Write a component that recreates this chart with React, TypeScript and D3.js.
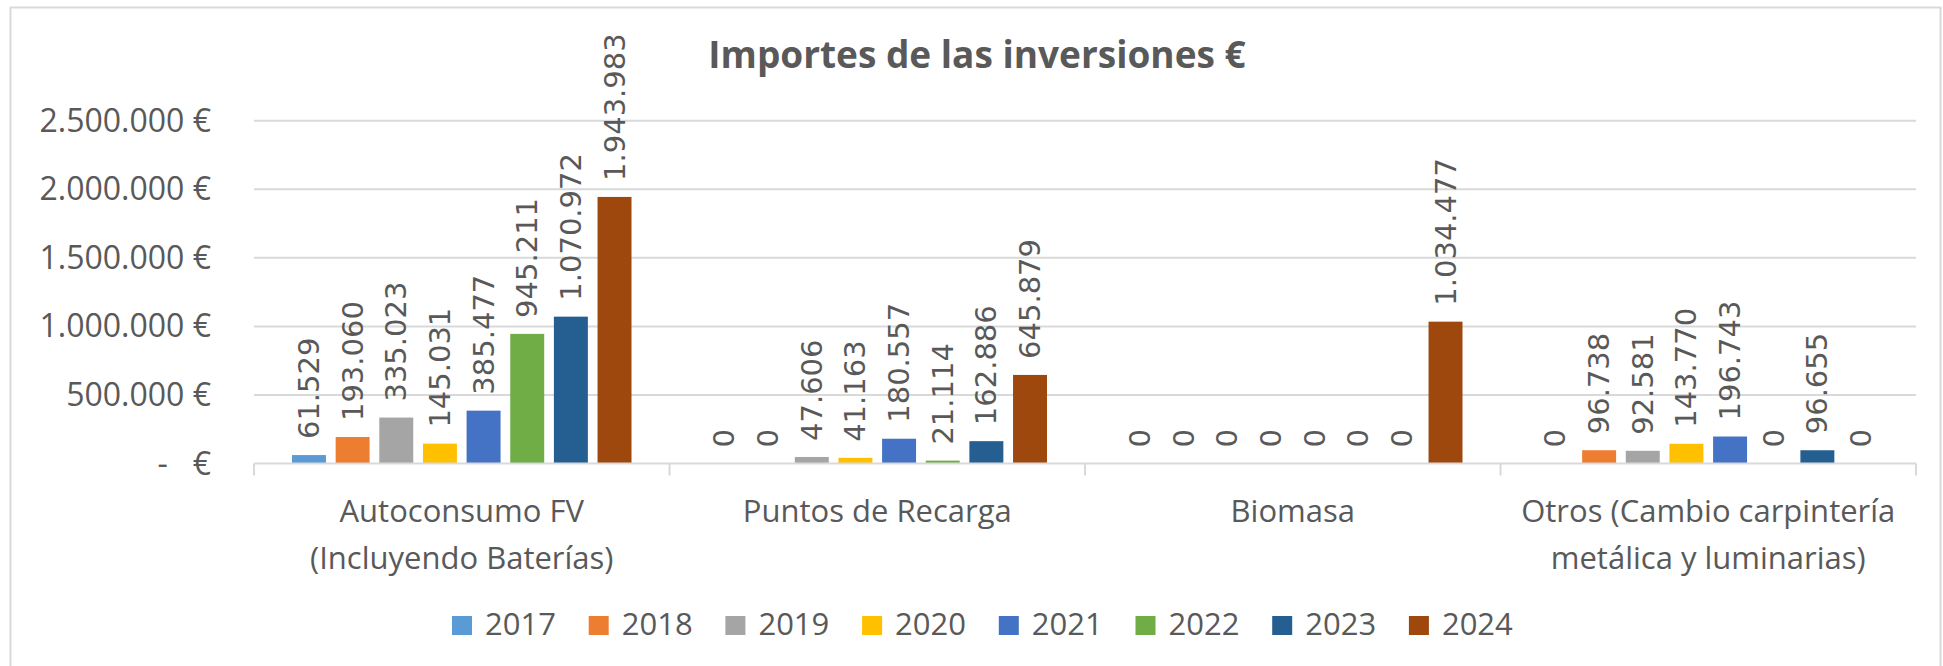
import * as d3 from "d3";
import { useEffect, useRef } from "react";

const categories = [
  ["Autoconsumo FV", "(Incluyendo Baterías)"],
  ["Puntos de Recarga"],
  ["Biomasa"],
  ["Otros (Cambio carpintería", "metálica y luminarias)"],
];
const years = ["2017", "2018", "2019", "2020", "2021", "2022", "2023", "2024"];
const colors = ["#5B9BD5", "#ED7D31", "#A5A5A5", "#FFC000", "#4472C4", "#70AD47", "#255E91", "#9E480E"];

// one array per category, values by year
const autoconsumo = [61529, 193060, 335023, 145031, 385477, 945211, 1070972, 1943983];
const puntosRecarga = [0, 0, 47606, 41163, 180557, 21114, 162886, 645879];
const biomasa = [0, 0, 0, 0, 0, 0, 0, 1034477];
const otros = [0, 96738, 92581, 143770, 196743, 0, 96655, 0];
const values = [autoconsumo, puntosRecarga, biomasa, otros];

const yTicks = [0, 500000, 1000000, 1500000, 2000000, 2500000];
const yTickLabels = ["-   €", "500.000 €", "1.000.000 €", "1.500.000 €", "2.000.000 €", "2.500.000 €"];

const App = () => {
  const ref = useRef<SVGSVGElement>(null);

  useEffect(() => {
    const svg = d3.select(ref.current);
    svg.selectAll("*").remove();
    const width = 1943;
    const height = 666;
    svg.attr("width", width).attr("height", height);

    const text = "#595959";
    const grid = "#d9d9d9";
    const sans = "'Open Sans', sans-serif";

    // chart border
    svg
      .append("rect")
      .attr("x", 10.5)
      .attr("y", 7.5)
      .attr("width", 1930)
      .attr("height", 670)
      .attr("fill", "white")
      .attr("stroke", grid)
      .attr("stroke-width", 2);

    const x0 = d3
      .scaleBand<number>()
      .domain(d3.range(categories.length))
      .range([254, 1916]);
    const x1 = d3
      .scaleBand<string>()
      .domain(years)
      .range([38, x0.bandwidth() - 38])
      .paddingInner(0.222);
    const y = d3.scaleLinear().domain([0, 2500000]).range([463.5, 120.7]);

    const nf = d3.formatLocale({ decimal: ",", thousands: ".", grouping: [3], currency: ["", "€"] }).format(",d");

    // gridlines
    svg
      .append("g")
      .selectAll("line")
      .data(yTicks.slice(1))
      .enter()
      .append("line")
      .attr("x1", 254)
      .attr("x2", 1916)
      .attr("y1", (d) => y(d))
      .attr("y2", (d) => y(d))
      .attr("stroke", grid)
      .attr("stroke-width", 2);

    // y labels
    svg
      .append("g")
      .selectAll("text")
      .data(yTicks)
      .enter()
      .append("text")
      .attr("x", 211)
      .attr("y", (d) => y(d) + 11)
      .attr("text-anchor", "end")
      .attr("font-family", sans)
      .attr("font-size", 32)
      .attr("fill", text)
      .style("white-space", "pre")
      .text((_, i) => yTickLabels[i]);

    // bars
    const groups = svg
      .append("g")
      .selectAll("g")
      .data(values)
      .enter()
      .append("g")
      .attr("transform", (_, i) => `translate(${x0(i)},0)`);

    groups
      .selectAll("rect")
      .data((d) => d)
      .enter()
      .append("rect")
      .attr("x", (_, j) => x1(years[j])!)
      .attr("y", (d) => y(d))
      .attr("width", x1.bandwidth())
      .attr("height", (d) => y(0) - y(d))
      .attr("fill", (_, j) => colors[j]);

    groups
      .selectAll("text")
      .data((d) => d)
      .enter()
      .append("text")
      .attr(
        "transform",
        (d, j) => `translate(${x1(years[j])! + x1.bandwidth() / 2},${y(d) - 16}) rotate(-90)`
      )
      .attr("dominant-baseline", "central")
      .attr("font-family", "'DejaVu Sans', sans-serif")
      .attr("font-size", 29)
      .attr("fill", text)
      .text((d) => nf(d));

    // x axis baseline and ticks
    svg
      .append("line")
      .attr("x1", 254)
      .attr("x2", 1916)
      .attr("y1", y(0))
      .attr("y2", y(0))
      .attr("stroke", grid)
      .attr("stroke-width", 2);

    const boundaries = d3.range(categories.length + 1).map((i) => (i < categories.length ? x0(i)! : 1916));
    svg
      .append("g")
      .selectAll("line")
      .data(boundaries)
      .enter()
      .append("line")
      .attr("x1", (d) => d)
      .attr("x2", (d) => d)
      .attr("y1", y(0))
      .attr("y2", y(0) + 12)
      .attr("stroke", grid)
      .attr("stroke-width", 2);

    // category labels
    const cat = svg
      .append("g")
      .selectAll("text")
      .data(categories)
      .enter()
      .append("text")
      .attr("text-anchor", "middle")
      .attr("font-family", sans)
      .attr("font-size", 31)
      .attr("fill", text);
    cat
      .selectAll("tspan")
      .data((d, i) => d.map((line) => ({ line, i })))
      .enter()
      .append("tspan")
      .attr("x", (d) => x0(d.i)! + x0.bandwidth() / 2)
      .attr("y", (_, k) => 522 + k * 47)
      .text((d) => d.line);

    // title
    svg
      .append("text")
      .attr("x", 977)
      .attr("y", 68)
      .attr("text-anchor", "middle")
      .attr("font-family", sans)
      .attr("font-weight", "bold")
      .attr("font-size", 37)
      .attr("fill", text)
      .text("Importes de las inversiones €");

    // legend
    const legend = svg
      .append("g")
      .selectAll("g")
      .data(years)
      .enter()
      .append("g")
      .attr("transform", (_, i) => `translate(${452 + i * 136.7},616)`);
    legend
      .append("rect")
      .attr("width", 20)
      .attr("height", 19)
      .attr("fill", (_, i) => colors[i]);
    legend
      .append("text")
      .attr("x", 33)
      .attr("y", 19)
      .attr("font-family", sans)
      .attr("font-size", 31)
      .attr("fill", text)
      .text((d) => d);
  }, []);

  return <svg ref={ref} style={{ position: "absolute", left: 0, top: 0, display: "block" }}></svg>;
};

export default App;
